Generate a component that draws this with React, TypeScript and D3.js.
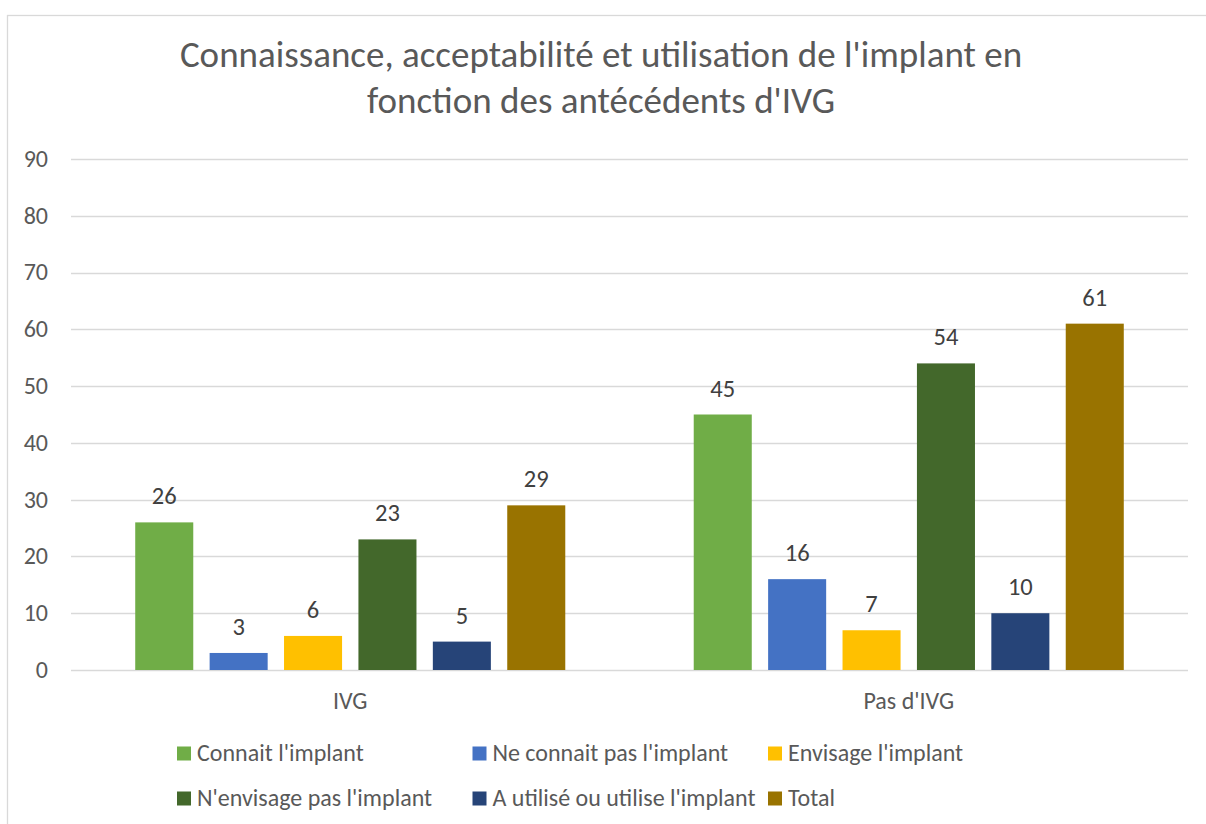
import React, { useRef, useEffect } from 'react';
import * as d3 from 'd3';

const titleLines = [
  "Connaissance, acceptabilité et utilisation de l'implant en",
  "fonction des antécédents d'IVG",
];
const categories = ['IVG', "Pas d'IVG"];
const seriesNames = [
  "Connait l'implant",
  "Ne connait pas l'implant",
  "Envisage l'implant",
  "N'envisage pas l'implant",
  "A utilisé ou utilise l'implant",
  'Total',
];
const seriesColors = ['#70ad47', '#4472c4', '#ffc000', '#43682b', '#264478', '#997300'];
const ivgValues = [26, 3, 6, 23, 5, 29];
const pasIvgValues = [45, 16, 7, 54, 10, 61];
const yTicks = [0, 10, 20, 30, 40, 50, 60, 70, 80, 90];

const W = 1206;
const H = 824;
const FONT = 'Carlito, Calibri, "Open Sans", sans-serif';

const App = () => {
  const svgRef = useRef<SVGSVGElement>(null);

  useEffect(() => {
    const svg = d3.select(svgRef.current);
    svg.selectAll('*').remove();

    const values = [ivgValues, pasIvgValues];
    const margin = { top: 159, right: 18, bottom: 154, left: 71 };
    const width = W - margin.left - margin.right;
    const height = H - margin.top - margin.bottom;

    // chart frame
    svg.append('rect')
      .attr('x', 7.5).attr('y', 15.5)
      .attr('width', W).attr('height', H)
      .attr('fill', '#fff')
      .attr('stroke', '#d9d9d9')
      .attr('stroke-width', 1.3);

    const title = svg.append('text')
      .attr('text-anchor', 'middle')
      .attr('fill', '#595959')
      .style('font-family', FONT)
      .style('font-size', '37px');
    titleLines.forEach((t, i) => {
      title.append('tspan').attr('x', 601).attr('y', 67 + i * 46).text(t);
    });

    const g = svg.append('g').attr('transform', `translate(${margin.left},${margin.top})`);

    const y = d3.scaleLinear().domain([0, 90]).range([height, 0]);
    const x0 = d3.scaleBand().domain(categories).range([0, width]).padding(0);
    const bw = x0.bandwidth();
    const x1 = d3.scaleBand()
      .domain(seriesNames)
      .range([bw * 0.115, bw * 0.885])
      .paddingInner(0.22);

    g.selectAll('.grid')
      .data(yTicks)
      .enter().append('line')
      .attr('x1', 0).attr('x2', width)
      .attr('y1', d => Math.round(y(d)) + 0.5)
      .attr('y2', d => Math.round(y(d)) + 0.5)
      .attr('stroke', '#d9d9d9')
      .attr('stroke-width', 1.3);

    g.selectAll('.ytick')
      .data(yTicks)
      .enter().append('text')
      .attr('x', -23)
      .attr('y', d => y(d))
      .attr('dy', '0.33em')
      .attr('text-anchor', 'end')
      .attr('fill', '#595959')
      .style('font-family', FONT)
      .style('font-size', '24px')
      .text(d => d);

    const groups = g.selectAll('.grp')
      .data(categories)
      .enter().append('g')
      .attr('transform', d => `translate(${x0(d)},0)`);

    groups.each(function (cat, ci) {
      const grp = d3.select(this);
      const data = seriesNames.map((s, si) => ({ s, si, v: values[ci][si] }));
      grp.selectAll('rect')
        .data(data)
        .enter().append('rect')
        .attr('x', d => x1(d.s))
        .attr('y', d => y(d.v))
        .attr('width', x1.bandwidth())
        .attr('height', d => height - y(d.v))
        .attr('fill', d => seriesColors[d.si]);
      grp.selectAll('.lbl')
        .data(data)
        .enter().append('text')
        .attr('x', d => x1(d.s) + x1.bandwidth() / 2)
        .attr('y', d => y(d.v) - 18)
        .attr('text-anchor', 'middle')
        .attr('fill', '#404040')
        .style('font-family', FONT)
        .style('font-size', '24.5px')
        .text(d => d.v);
      grp.append('text')
        .attr('x', bw / 2)
        .attr('y', height + 39)
        .attr('text-anchor', 'middle')
        .attr('fill', '#595959')
        .style('font-family', FONT)
        .style('font-size', '24px')
        .text(cat);
    });

    // legend: 3 equal columns, 2 rows
    const legend = svg.append('g');
    const colStep = 295.5;
    seriesNames.forEach((s, i) => {
      const lx = 177 + (i % 3) * colStep;
      const ly = 753.5 + Math.floor(i / 3) * 45;
      legend.append('rect')
        .attr('x', lx).attr('y', ly - 7)
        .attr('width', 14).attr('height', 14)
        .attr('fill', seriesColors[i]);
      legend.append('text')
        .attr('x', lx + 20).attr('y', ly)
        .attr('dy', '0.33em')
        .attr('fill', '#595959')
        .style('font-family', FONT)
        .style('font-size', '24px')
        .text(s);
    });
  }, []);

  return (
    <svg
      ref={svgRef}
      width={W}
      height={H}
      style={{ position: 'absolute', left: 0, top: 0 }}
    />
  );
};

export default App;
